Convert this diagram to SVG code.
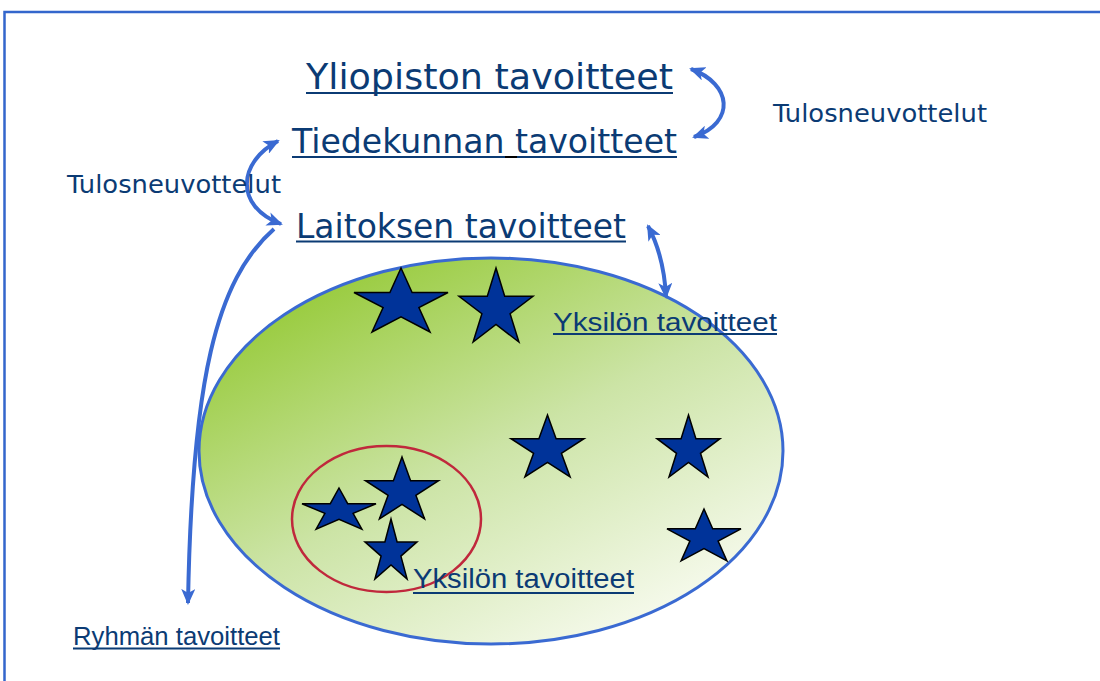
<svg xmlns="http://www.w3.org/2000/svg" width="1100" height="681" viewBox="0 0 1100 681">
  <style>
    .frame { stroke: #3366cc; stroke-width: 2.5; fill: none; }
    .title { font-family: "DejaVu Sans", Verdana, sans-serif; fill: #0b3b74; }
    .label { font-family: "Liberation Sans", Arial, sans-serif; fill: #0b3b74; }
    .ul { stroke: #0b3b74; stroke-width: 2; }
    .star { fill: #003399; stroke: #000; stroke-width: 1.5; stroke-linejoin: miter; }
    .conn { fill: none; stroke: #3a6ad2; stroke-width: 4; }
  </style>
  <defs>
    <linearGradient id="greenGrad" x1="0.15" y1="0.05" x2="0.85" y2="0.95">
      <stop offset="0" stop-color="#94c934"/>
      <stop offset="0.5" stop-color="#cce4a6"/>
      <stop offset="1" stop-color="#fafcf3"/>
    </linearGradient>
    <marker id="arrow" viewBox="0 0 16 14" refX="14" refY="7" markerWidth="16" markerHeight="14" markerUnits="userSpaceOnUse" orient="auto-start-reverse">
      <path d="M0,0 L16,7 L0,14 L4,7 z" fill="#3a6ad2"/>
    </marker>
  </defs>

  <!-- frame -->
  <g id="frame">
    <path class="frame" d="M4.5,681 L4.5,12 L1100,12"/>
  </g>

  <!-- big ellipse -->
  <g id="department-area">
    <ellipse cx="491" cy="451" rx="292" ry="193" fill="url(#greenGrad)" stroke="#3a6ad2" stroke-width="3"/>
  </g>

  <!-- group ellipse -->
  <g id="group-area">
    <ellipse cx="386.5" cy="519" rx="94.5" ry="73" fill="none" stroke="#c0283c" stroke-width="2.5"/>
  </g>

  <!-- stars -->
  <g id="stars">
    <polygon class="star" points="401,268 412.1,292.5 448,292.5 418.9,307.6 430,332 401,316.9 372,332 383.1,307.6 354,292.5 389.9,292.5"/>
    <polygon class="star" points="496,268 504.7,296.3 533,296.3 510.1,313.7 518.9,342 496,324.5 473.1,342 481.9,313.7 459,296.3 487.3,296.3"/>
    <polygon class="star" points="339,488 347.7,503.7 376,503.7 353.1,513.4 361.9,529.1 339,519.4 316.1,529.1 324.9,513.4 302,503.7 330.3,503.7"/>
    <polygon class="star" points="402,457 410.6,480.7 438.5,480.7 415.9,495.3 424.6,519 402,504.4 379.4,519 388.1,495.3 365.5,480.7 393.4,480.7"/>
    <polygon class="star" points="391,519 397.1,541.9 417,541.9 400.9,556.1 407.1,579.1 391,564.9 374.9,579.1 381.1,556.1 365,541.9 384.9,541.9"/>
    <polygon class="star" points="547.5,415 556.1,438.7 584,438.7 561.4,453.3 570.1,477 547.5,462.4 524.9,477 533.6,453.3 511,438.7 538.9,438.7"/>
    <polygon class="star" points="688.5,415 695.9,438.7 720,438.7 700.5,453.3 708,477 688.5,462.4 669,477 676.5,453.3 657,438.7 681.1,438.7"/>
    <polygon class="star" points="704,509 712.7,528.8 741,528.8 718.1,541.1 726.9,560.9 704,548.7 681.1,560.9 689.9,541.1 667,528.8 695.3,528.8"/>
  </g>

  <!-- connectors -->
  <g id="connectors">
    <path class="conn" d="M691,69 C732,84 736,122 694,137" marker-start="url(#arrow)" marker-end="url(#arrow)"/>
    <path class="conn" d="M278,141 C238,162 234,206 281,224" marker-start="url(#arrow)" marker-end="url(#arrow)"/>
    <path class="conn" d="M274,229 C216,280 192,380 188,603" marker-end="url(#arrow)"/>
    <path class="conn" d="M648,226 Q664,256 666,297" marker-start="url(#arrow)" marker-end="url(#arrow)"/>
  </g>

  <!-- nodes -->
  <g id="yliopisto">
    <text class="title" x="306" y="89" font-size="35.4" textLength="367" lengthAdjust="spacingAndGlyphs">Yliopiston tavoitteet</text>
    <line class="ul" x1="306" y1="93" x2="673" y2="93"/>
  </g>
  <g id="tiedekunta">
    <text class="title" x="292" y="153" font-size="33" textLength="385" lengthAdjust="spacingAndGlyphs">Tiedekunnan tavoitteet</text>
    <line class="ul" x1="292" y1="157" x2="677" y2="157"/>
    <line x1="505" y1="157" x2="517" y2="157" stroke="#000" stroke-width="2"/>
  </g>
  <g id="laitos">
    <text class="title" x="296" y="238" font-size="33" textLength="330" lengthAdjust="spacingAndGlyphs">Laitoksen tavoitteet</text>
    <line class="ul" x1="296" y1="241.5" x2="626" y2="241.5"/>
  </g>
  <g id="tulos-right">
    <text class="title" x="773" y="122" font-size="25" textLength="214" lengthAdjust="spacingAndGlyphs">Tulosneuvottelut</text>
  </g>
  <g id="tulos-left">
    <text class="title" x="67" y="193" font-size="25" textLength="214" lengthAdjust="spacingAndGlyphs">Tulosneuvottelut</text>
  </g>
  <g id="yksilo-upper">
    <text class="label" x="553" y="331" font-size="26.5" textLength="224" lengthAdjust="spacingAndGlyphs">Yksilön tavoitteet</text>
    <line class="ul" x1="553" y1="334" x2="777" y2="334"/>
  </g>
  <g id="yksilo-lower">
    <text class="label" x="413" y="588" font-size="27" textLength="221" lengthAdjust="spacingAndGlyphs">Yksilön tavoitteet</text>
    <line class="ul" x1="413" y1="593" x2="634" y2="593"/>
  </g>
  <g id="ryhma">
    <text class="label" x="73" y="645" font-size="25" textLength="207" lengthAdjust="spacingAndGlyphs">Ryhmän tavoitteet</text>
    <line class="ul" x1="73" y1="648.5" x2="280" y2="648.5"/>
  </g>
</svg>
